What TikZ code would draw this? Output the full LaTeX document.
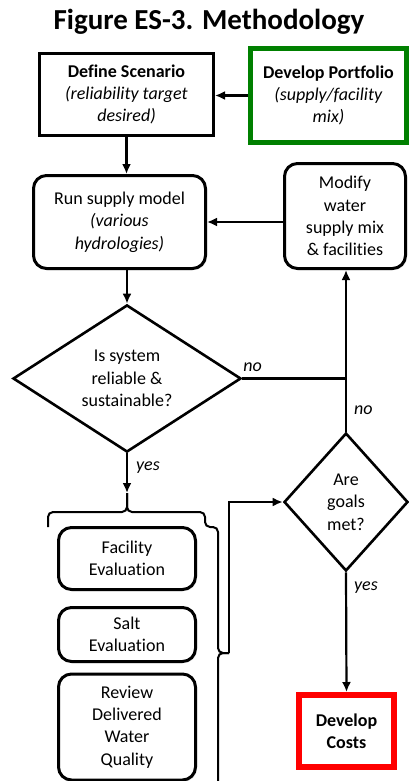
\documentclass[tikz,border=0pt]{standalone}
\usepackage{fontspec}
\setmainfont{Carlito}[Ligatures=NoCommon]
\usetikzlibrary{arrows.meta,shapes.geometric,shadows}

\begin{document}
\begin{tikzpicture}[x=1pt,y=-1pt,line width=2.2pt,>={Latex[length=10pt,width=9pt]},
 txt/.style={font=\fontsize{18}{22.3}\selectfont,align=center,inner sep=0pt},
 sqbox/.style={txt,draw,line width=3pt,fill=white,drop shadow={shadow xshift=1.5pt,shadow yshift=-1.5pt,opacity=0.25}},
 rbox/.style={sqbox,rounded corners=13pt},
 decision/.style={txt,draw,diamond,line width=2.6pt,fill=white},
 lbl/.style={font=\fontsize{18}{22}\selectfont\itshape,inner sep=0pt},
 brc/.style={rounded corners=5pt,line width=2pt}]
 \useasboundingbox (0,0) rectangle (409,781);
 \node[font=\fontsize{29}{32}\selectfont\bfseries] (title) at (209,22) {Figure ES-3. Methodology};

 \node[sqbox,minimum width=174pt,minimum height=82pt] (def) at (126.5,94.5)
  {\textbf{Define Scenario}\\\textit{(reliability target}\\\textit{desired)}};
 \node[sqbox,draw=green!50!black,line width=5pt,minimum width=156pt,minimum height=94pt] (port) at (328.5,95.5)
  {\textbf{Develop Portfolio}\\\textit{(supply/facility}\\\textit{mix)}};
 \node[rbox,minimum width=172pt,minimum height=93pt] (run) at (119.5,222)
  {Run supply model\\\textit{(various}\\\textit{hydrologies)}};
 \node[rbox,minimum width=121pt,minimum height=105pt] (mod) at (345,216)
  {Modify\\water\\supply mix\\\& facilities};
 \node[decision,minimum width=228pt,minimum height=144pt] (sys) at (127,378.5)
  {Is system\\reliable \&\\sustainable?};
 \node[decision,minimum width=124pt,minimum height=138pt] (goal) at (346,502)
  {Are\\goals\\met?};
 \node[rbox,minimum width=137pt,minimum height=62pt] (fac) at (127,558.5) {Facility\\Evaluation};
 \node[rbox,minimum width=137pt,minimum height=54pt] (salt) at (127,634.5) {Salt\\Evaluation};
 \node[rbox,minimum width=137pt,minimum height=106pt] (rev) at (127,727) {Review\\Delivered\\Water\\Quality};
 \node[sqbox,draw=red,line width=6pt,minimum width=95pt,minimum height=72pt] (cost) at (346.5,731)
  {\textbf{Develop}\\\textbf{Costs}};

 % braces round the evaluations
 \coordinate (tipa) at (127,493);
 \coordinate (tipb) at (229,653);
 \draw[brc] (48,527) -- (48,512) -- (tipa |- 0,512) -- (tipa);
 \draw[brc] (tipa) -- (tipa |- 0,512) -- (205,512) -- (205,527) -- (218,527) -- (218,653) -- (tipb);
 \draw[brc] (tipb) -- (218,653) -- (218,792) -- (205,792);

 \draw[->] (port.west) -- (port.west -| def.east);
 \draw[->] (def.south) -- (def.south |- run.north);
 \draw[->] (run.east -| mod.west) -- (run.east);
 \draw[->] (sys.north |- run.south) -- (sys.north);
 \draw (sys.east) -- (sys.east -| goal.north) node[lbl,pos=0.1,above=6pt] (no1) {no};
 \draw[->] (goal.north) -- (goal.north |- mod.south) node[lbl,pos=0.13,right=7pt] (no2) {no};
 \draw[->] (sys.south) -- (tipa) node[lbl,pos=0.35,right=8pt] (yes1) {yes};
 \draw[->] (tipb) |- (goal.west);
 \draw[->] (goal.south) -- (cost.north) node[lbl,pos=0.13,right=7pt] (yes2) {yes};
\end{tikzpicture}
\end{document}
